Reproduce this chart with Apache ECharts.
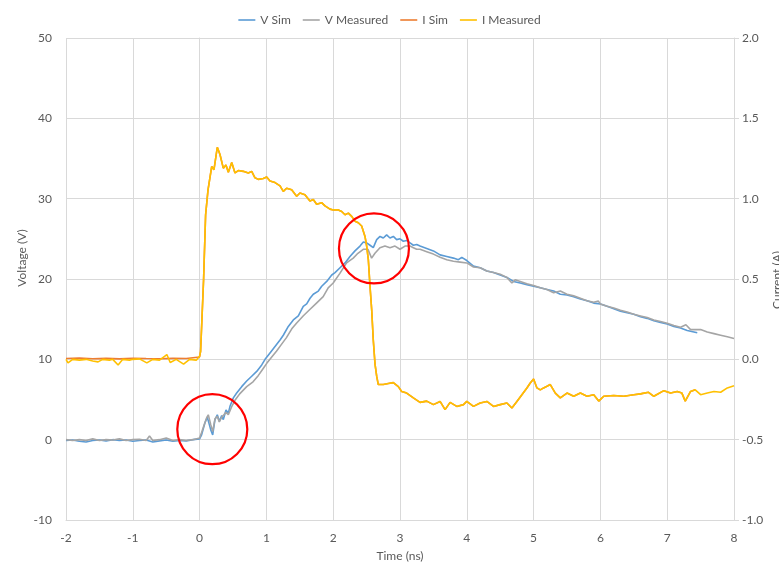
<!DOCTYPE html>
<html>
<head>
<meta charset="utf-8">
<script src="https://cdn.jsdelivr.net/npm/echarts@6/dist/echarts.min.js"></script>
<style>
html,body{margin:0;padding:0;background:#fff;}
#chart{width:779px;height:565px;}
</style>
</head>
<body>
<div id="chart"></div>
<script>
// ---- Data (time in ns, voltage in V, current in A) ----
const legendNames = ['V Sim', 'V Measured', 'I Sim', 'I Measured'];
const xTicks = [-2, -1, 0, 1, 2, 3, 4, 5, 6, 7, 8];

const vSimT = [-2.0,-1.9,-1.8,-1.7,-1.6,-1.5,-1.4,-1.3,-1.2,-1.1,-1.0,-0.9,-0.8,-0.7,-0.6,-0.5,-0.4,-0.3,-0.2,-0.1,0.0,
  0.03,0.08,0.115,0.145,0.166,0.196,0.23,0.265,0.295,0.331,0.355,0.395,0.43,0.455,0.505,0.555,0.63,0.705,0.78,0.855,0.93,0.98,
  1.054,1.129,1.204,1.253,1.328,1.403,1.478,1.552,1.603,1.653,1.702,1.777,1.828,1.903,1.978,2.027,2.102,2.177,2.251,2.326,2.401,
  2.451,2.501,2.551,2.60,2.651,2.701,2.75,2.80,2.85,2.90,2.95,3.0,3.05,3.10,3.15,3.20,3.25,3.30,3.40,3.50,3.60,3.70,3.80,3.874,
  3.925,4.0,4.10,4.20,4.30,4.40,4.50,4.60,4.70,4.80,4.90,5.0,5.10,5.20,5.30,5.40,5.50,5.60,5.70,5.80,5.90,6.0,6.10,6.20,6.30,
  6.40,6.50,6.60,6.70,6.80,6.90,7.0,7.10,7.20,7.30,7.40,7.45];
const vSimV = [-0.1,-0.05,-0.2,-0.3,-0.1,-0.05,-0.15,0.0,-0.1,-0.05,-0.2,-0.1,-0.05,-0.3,-0.15,-0.05,-0.2,-0.1,-0.15,0.0,0.1,
  0.6,2.1,2.8,1.9,1.25,0.6,2.5,3.1,2.3,3.0,2.5,3.7,3.3,4.15,5.2,5.8,6.6,7.3,7.9,8.5,9.3,10.0,
  10.8,11.6,12.4,13.0,14.1,14.9,15.4,16.6,16.9,17.6,18.1,18.5,19.1,19.7,20.5,20.8,21.4,22.0,22.8,23.5,24.1,
  24.6,24.5,24.2,23.9,24.9,25.3,25.1,25.5,25.1,25.3,24.9,25.0,24.7,24.8,24.5,24.2,24.3,24.1,23.8,23.5,23.0,22.8,22.6,22.4,
  22.7,22.3,21.6,21.4,21.0,20.8,20.5,20.2,19.7,19.5,19.3,19.1,18.9,18.7,18.5,18.1,18.0,17.8,17.5,17.3,17.0,16.9,16.6,16.3,16.0,
  15.8,15.6,15.3,15.1,14.8,14.6,14.4,14.1,13.9,13.6,13.4,13.3];

const vMeasT = [-2.0,-1.9,-1.8,-1.7,-1.6,-1.5,-1.4,-1.3,-1.2,-1.1,-1.0,-0.9,-0.8,-0.75,-0.7,-0.6,-0.5,-0.4,-0.3,-0.2,-0.1,0.0,
  0.03,0.06,0.105,0.13,0.166,0.196,0.23,0.265,0.295,0.331,0.355,0.395,0.43,0.48,0.53,0.60,0.705,0.80,0.88,0.955,1.005,
  1.08,1.15,1.22,1.30,1.38,1.45,1.55,1.65,1.75,1.85,1.925,2.0,2.10,2.20,2.30,2.37,2.45,2.52,2.575,2.625,2.70,2.775,2.85,
  2.925,3.0,3.075,3.15,3.20,3.25,3.30,3.40,3.50,3.60,3.70,3.80,3.90,4.0,4.10,4.20,4.30,4.40,4.50,4.60,4.675,4.725,4.80,
  4.90,5.0,5.10,5.20,5.30,5.40,5.50,5.60,5.70,5.80,5.90,5.97,6.0,6.10,6.20,6.30,6.40,6.50,6.60,6.70,6.80,6.90,7.0,7.10,
  7.20,7.28,7.35,7.45,7.50,7.60,7.70,7.80,7.90,8.0];
const vMeasV = [0.0,-0.1,0.0,-0.1,0.1,-0.1,0.0,-0.05,0.1,-0.1,0.0,0.05,-0.1,0.45,-0.1,0.0,0.2,-0.1,0.0,-0.1,0.0,0.2,
  0.9,1.65,2.7,3.1,1.9,1.0,2.6,2.9,2.2,2.8,2.6,3.4,3.1,4.1,4.9,5.7,6.6,7.2,8.0,8.9,9.5,
  10.3,11.0,11.8,12.7,13.8,14.5,15.4,16.2,17.0,17.8,18.9,19.5,20.7,22.0,22.6,23.2,23.7,23.7,22.6,23.2,23.9,24.1,23.9,
  24.1,23.7,24.1,24.1,23.9,23.7,23.7,23.4,23.1,22.7,22.4,22.2,22.1,22.0,21.5,21.4,21.0,20.8,20.6,20.2,19.5,19.9,19.7,
  19.4,19.2,18.9,18.7,18.3,18.5,18.1,17.9,17.6,17.3,17.1,17.25,16.9,16.6,16.4,16.1,15.9,15.6,15.4,15.2,14.9,14.7,14.5,14.2,
  14.0,14.3,13.7,13.7,13.7,13.4,13.2,13.0,12.8,12.6];

const iMeasT = [-2.0,-1.97,-1.9,-1.8,-1.7,-1.6,-1.52,-1.45,-1.35,-1.3,-1.22,-1.15,-1.05,-1.0,-0.9,-0.79,-0.7,-0.6,-0.49,-0.44,-0.35,-0.24,-0.15,-0.05,0.0,
  0.015,0.06,0.09,0.126,0.181,0.215,0.265,0.305,0.355,0.395,0.43,0.481,0.53,0.579,0.654,0.729,0.78,0.829,0.879,0.954,1.004,1.054,1.129,
  1.15,1.204,1.253,1.303,1.378,1.403,1.453,1.502,1.577,1.652,1.702,1.752,1.827,1.877,1.952,2.002,2.077,2.127,2.177,2.227,2.277,2.326,
  2.376,2.426,2.476,2.501,2.526,2.551,2.576,2.60,2.626,2.651,2.675,2.75,2.825,2.90,2.925,2.975,3.025,3.10,3.20,3.30,3.40,3.50,3.60,
  3.675,3.75,3.85,3.95,4.0,4.10,4.20,4.30,4.40,4.50,4.60,4.675,4.75,4.825,4.90,4.95,5.0,5.05,5.10,5.15,5.20,5.25,5.325,5.40,5.50,
  5.60,5.70,5.80,5.90,5.975,6.05,6.20,6.35,6.50,6.60,6.72,6.80,6.95,7.05,7.15,7.22,7.27,7.35,7.42,7.50,7.60,7.70,7.80,7.90,8.0];
const iMeasI = [0.0,-0.022,0.0,-0.005,0.0,-0.01,-0.016,0.0,-0.005,0.0,-0.035,0.0,-0.005,0.0,0.003,-0.022,0.0,-0.005,0.03,-0.02,0.0,-0.03,0.0,-0.005,0.02,
  0.05,0.5,0.9,1.055,1.2,1.18,1.32,1.275,1.19,1.21,1.165,1.225,1.16,1.175,1.17,1.16,1.17,1.13,1.12,1.125,1.135,1.11,1.10,
  1.11,1.08,1.045,1.065,1.055,1.065,1.015,1.035,1.025,0.985,0.995,0.965,0.975,0.955,0.935,0.93,0.93,0.92,0.90,0.91,0.89,0.86,
  0.85,0.83,0.765,0.705,0.62,0.455,0.31,0.12,-0.03,-0.105,-0.157,-0.157,-0.15,-0.145,-0.135,-0.17,-0.2,-0.21,-0.24,-0.268,-0.26,-0.282,-0.262,
  -0.313,-0.268,-0.293,-0.282,-0.262,-0.293,-0.272,-0.262,-0.293,-0.282,-0.272,-0.303,-0.262,-0.22,-0.178,-0.147,-0.122,-0.178,-0.19,-0.178,-0.168,-0.157,-0.21,-0.24,-0.21,
  -0.23,-0.21,-0.23,-0.22,-0.26,-0.23,-0.225,-0.23,-0.22,-0.215,-0.205,-0.23,-0.195,-0.21,-0.20,-0.21,-0.26,-0.20,-0.19,-0.22,-0.21,-0.20,-0.205,-0.178,-0.165];

const iSimT = [-2.0,-1.8,-1.6,-1.4,-1.2,-1.0,-0.8,-0.6,-0.4,-0.2,0.0,
  0.015,0.06,0.09,0.126,0.181,0.215,0.265,0.305,0.355,0.395,0.43,0.481,0.53,0.579,0.654,0.729,0.78,0.829,0.879,0.954,1.004,1.054,1.129,
  1.15,1.204,1.253,1.303,1.378,1.403,1.453,1.502,1.577,1.652,1.702,1.752,1.827,1.877,1.952,2.002,2.077,2.127,2.177,2.227,2.277,2.326,
  2.376,2.426,2.476,2.501,2.526,2.551,2.576,2.60,2.626,2.651,2.675,2.75,2.825,2.90,2.925,2.975,3.025,3.10,3.20,3.30,3.40,3.50,3.60,
  3.675,3.75,3.85,3.95,4.0,4.10,4.20,4.30,4.40,4.50,4.60,4.675,4.75,4.825,4.90,4.95,5.0,5.05,5.10,5.15,5.20,5.25,5.325,5.40,5.50,
  5.60,5.70,5.80,5.90,5.975,6.05,6.20,6.35,6.50,6.60,6.72,6.80,6.95,7.05,7.15,7.22,7.27,7.35,7.42];
const iSimI = [0.005,0.008,0.004,0.006,0.003,0.007,0.005,0.004,0.006,0.005,0.015,
  0.05,0.5,0.9,1.055,1.2,1.18,1.32,1.275,1.19,1.21,1.165,1.225,1.16,1.175,1.17,1.16,1.17,1.13,1.12,1.125,1.135,1.11,1.10,
  1.11,1.08,1.045,1.065,1.055,1.065,1.015,1.035,1.025,0.985,0.995,0.965,0.975,0.955,0.935,0.93,0.93,0.92,0.90,0.91,0.89,0.86,
  0.85,0.83,0.765,0.705,0.62,0.455,0.31,0.12,-0.03,-0.105,-0.157,-0.157,-0.15,-0.145,-0.135,-0.17,-0.2,-0.21,-0.24,-0.268,-0.26,-0.282,-0.262,
  -0.313,-0.268,-0.293,-0.282,-0.262,-0.293,-0.272,-0.262,-0.293,-0.282,-0.272,-0.303,-0.262,-0.22,-0.178,-0.147,-0.122,-0.178,-0.19,-0.178,-0.168,-0.157,-0.21,-0.24,-0.21,
  -0.23,-0.21,-0.23,-0.22,-0.26,-0.23,-0.225,-0.23,-0.22,-0.215,-0.205,-0.23,-0.195,-0.21,-0.20,-0.21,-0.26,-0.20,-0.19];

// annotation circles (data coordinates: time ns, voltage V)
const circleCenters = [[0.19, 1.3], [2.61, 23.8]];

// ---- Chart ----
const pairs = (ts, vs) => ts.map((t, i) => [t, vs[i]]);
const FONT = 'Lato, "Liberation Sans", sans-serif';
const TXT = '#595959';
const GRID = '#D9D9D9';

const chart = echarts.init(document.getElementById('chart'), null, {renderer: 'canvas'});
const mkSeries = (name, data, color, yIdx) => ({
  name, type: 'line', data, yAxisIndex: yIdx, symbol: 'none', showSymbol: false,
  lineStyle: {color, width: 1.6}, itemStyle: {color}, z: 2
});

chart.setOption({
  animation: false,
  backgroundColor: '#fff',
  textStyle: {fontFamily: FONT},
  legend: {
    top: 9, left: 'center', icon: 'rect', itemWidth: 17, itemHeight: 1.6, itemGap: 12,
    textStyle: {color: TXT, fontSize: 12, fontFamily: FONT},
    data: legendNames
  },
  grid: {left: 66, right: 45, top: 38, bottom: 45, containLabel: false},
  xAxis: {
    type: 'value', min: -2, max: 8, interval: 1,
    axisLine: {show: true, onZero: false, lineStyle: {color: GRID}},
    axisTick: {show: false},
    axisLabel: {color: TXT, fontSize: 12, margin: 12, fontFamily: FONT},
    splitLine: {show: true, lineStyle: {color: GRID}}
  },
  yAxis: [{
    type: 'value', min: -10, max: 50, interval: 10, position: 'left',
    axisLine: {show: true, lineStyle: {color: GRID}},
    axisTick: {show: false},
    axisLabel: {color: TXT, fontSize: 12, margin: 14, fontFamily: FONT},
    splitLine: {show: true, lineStyle: {color: GRID}}
  }, {
    type: 'value', min: -1, max: 2, interval: 0.5, position: 'right',
    axisLine: {show: true, lineStyle: {color: GRID}},
    axisTick: {show: true, length: 5, lineStyle: {color: GRID}},
    axisLabel: {color: TXT, fontSize: 12, margin: 8, fontFamily: FONT, formatter: v => v.toFixed(1)},
    splitLine: {show: false}
  }],
  series: [
    mkSeries(legendNames[0], pairs(vSimT, vSimV), '#5B9BD5', 0),
    mkSeries(legendNames[1], pairs(vMeasT, vMeasV), '#A5A5A5', 0),
    mkSeries(legendNames[2], pairs(iSimT, iSimI), '#ED7D31', 1),
    mkSeries(legendNames[3], pairs(iMeasT, iMeasI), '#FFC000', 1)
  ]
});

const c1 = chart.convertToPixel({xAxisIndex: 0, yAxisIndex: 0}, circleCenters[0]);
const c2 = chart.convertToPixel({xAxisIndex: 0, yAxisIndex: 0}, circleCenters[1]);
const xMid = chart.convertToPixel({xAxisIndex: 0}, 3);

chart.setOption({
  graphic: [
    {type: 'circle', shape: {cx: c1[0], cy: c1[1], r: 35}, style: {fill: 'none', stroke: '#FF0000', lineWidth: 2.2}, z: 100},
    {type: 'circle', shape: {cx: c2[0], cy: c2[1], r: 35}, style: {fill: 'none', stroke: '#FF0000', lineWidth: 2.2}, z: 100},
    {type: 'text', x: xMid, y: 556, style: {text: 'Time (ns)', fill: TXT, font: '12px ' + FONT, textAlign: 'center', textVerticalAlign: 'middle'}},
    {type: 'text', x: 22, y: 258, rotation: Math.PI / 2, style: {text: 'Voltage (V)', fill: TXT, font: '12px ' + FONT, textAlign: 'center', textVerticalAlign: 'middle'}},
    {type: 'text', x: 777, y: 280, rotation: Math.PI / 2, style: {text: 'Current (A)', fill: TXT, font: '12px ' + FONT, textAlign: 'center', textVerticalAlign: 'middle'}}
  ]
});
</script>
</body>
</html>
